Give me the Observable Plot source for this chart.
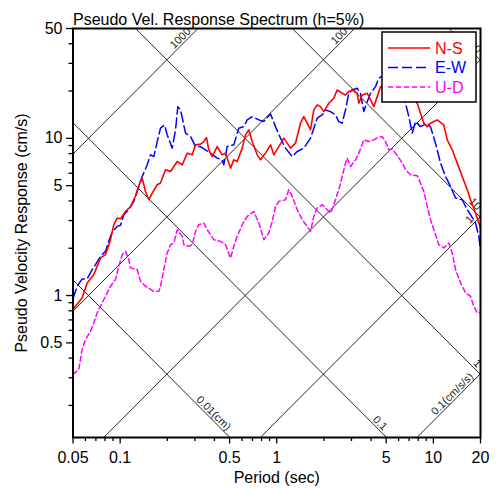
<!DOCTYPE html>
<html><head><meta charset="utf-8">
<script src="https://cdn.jsdelivr.net/npm/d3@7"></script>
<script src="https://cdn.jsdelivr.net/npm/@observablehq/plot@0.6"></script>
<style>body{margin:0;background:#fff} svg{display:block}</style>
</head><body><div id="chart"></div>
<script>
// ---------- data ----------
const periodNS = [0.05,0.0572,0.0616,0.0679,0.0749,0.0806,0.0868,0.0911,0.0958,0.1006,0.1082,0.1164,0.1254,0.1349,0.1383,0.1452,0.1524,0.1603,0.1725,0.1810,0.1949,0.2098,0.2315,0.2492,0.2682,0.2886,0.3029,0.3260,0.3421,0.3560,0.3682,0.3870,0.4165,0.4483,0.4706,0.5066,0.5316,0.5590,0.6017,0.6316,0.6630,0.6970,0.7502,0.7876,0.8476,0.9124,0.9577,1.0307,1.1093,1.1661,1.2240,1.3174,1.4179,1.4883,1.5646,1.6424,1.7242,1.8124,1.9026,1.9971,2.1497,2.3135,2.4321,2.6174,2.7477,2.8843,3.0322,3.2637,3.3412,3.5125,3.7814,3.9687,4.1660,4.3795,4.5973,5.195,5.876,6.641,7.329,7.888,8.691,9.137,9.591,10.58,11.66,12.26,13.20,14.20,15.29,16.46,17.27,18.59,20];
const velNS = [0.815,0.967,1.204,1.359,1.735,1.821,2.268,2.824,3.113,3.082,3.429,3.674,4.314,5.373,5.589,4.594,4.069,4.487,5.068,5.195,6.310,6.155,7.123,6.787,8.054,7.857,9.094,9.187,9.544,10.12,8.453,7.662,8.871,7.857,8.054,6.469,7.302,7.123,8.667,10.52,11.32,9.544,7.857,7.302,8.054,9.094,7.857,8.871,10.03,9.322,8.667,9.322,12.49,13.75,12.49,11.32,15.17,16.32,15.92,14.80,16.73,18.00,20.32,19.36,18.89,19.82,20.32,19.36,16.73,18.89,19.36,17.56,15.92,18.43,21.33,19.74,21.87,18.89,18.08,16.73,12.49,11.88,12.49,13.11,12.18,9.783,8.453,6.958,5.722,4.710,4.069,3.351,2.691];

const periodEW = [0.05,0.0532,0.0572,0.0616,0.0663,0.0696,0.0749,0.0806,0.0846,0.0890,0.0958,0.1006,0.1056,0.1136,0.1222,0.1285,0.1383,0.1489,0.1563,0.1640,0.1725,0.1810,0.1920,0.1998,0.2151,0.2258,0.2335,0.2430,0.2616,0.2815,0.3029,0.3260,0.3508,0.3775,0.4165,0.4483,0.4590,0.4825,0.5316,0.5724,0.6160,0.6476,0.6970,0.7682,0.8267,0.9124,0.9819,1.0568,1.1374,1.2550,1.3508,1.4883,1.6424,1.7242,1.8124,1.9507,2.0478,2.2038,2.3718,2.4899,2.6174,2.7477,2.8843,3.0322,3.2637,3.4260,3.5968,3.7814,3.9687,4.2717,4.4837,4.6451,5.195,5.876,6.641,6.971,7.329,7.694,8.279,9.137,9.591,10.32,11.11,11.96,12.87,13.86,15.29,16.46,17.27,18.59,19.51,20];
const velEW = [0.957,1.146,1.276,1.276,1.463,1.573,1.777,1.910,2.212,2.548,2.754,2.803,3.268,3.516,3.969,4.594,5.722,6.787,7.857,7.662,9.544,11.61,12.18,10.52,8.667,11.32,15.92,15.17,10.79,10.27,8.871,8.871,8.453,8.054,7.485,7.302,6.787,8.871,9.094,11.61,11.88,13.11,13.75,13.11,12.79,14.31,11.88,10.03,8.667,7.662,8.246,8.667,10.03,11.61,13.44,14.10,15.17,14.80,14.10,12.79,12.49,15.17,19.36,20.32,20.83,19.36,14.80,17.13,19.36,21.33,24.11,24.69,23.52,20.32,16.73,13.75,10.79,12.79,11.88,12.49,11.83,9.322,6.958,5.722,4.943,4.172,4.069,3.516,3.268,2.894,2.379,1.959];

const periodUD = [0.05,0.0544,0.0572,0.0601,0.0647,0.0679,0.0714,0.0749,0.0806,0.0868,0.0934,0.0980,0.1031,0.1082,0.1136,0.1164,0.1285,0.1349,0.1452,0.1640,0.1766,0.1810,0.1900,0.1998,0.2098,0.2202,0.2315,0.2492,0.2551,0.2746,0.2886,0.3029,0.3180,0.3421,0.3597,0.3962,0.4372,0.4706,0.5066,0.5316,0.5590,0.6017,0.6476,0.7136,0.7682,0.8267,0.8898,0.9354,0.9819,1.0307,1.1374,1.1938,1.2550,1.3508,1.4538,1.5646,1.6424,1.7242,1.8124,1.9507,2.0998,2.2038,2.3135,2.4899,2.6174,2.7477,2.8174,2.9572,3.1835,3.3412,3.5968,3.8712,4.1660,4.3795,4.7140,4.9483,5.195,5.460,5.731,6.327,6.641,7.149,7.888,8.279,8.691,9.137,9.591,10.07,10.84,11.66,12.55,13.20,13.86,14.91,16.05,17.27,18.13,19.06,20];
const velUD = [0.315,0.339,0.454,0.526,0.593,0.671,0.777,0.855,0.990,1.146,1.264,1.535,1.821,1.910,1.692,1.500,1.463,1.233,1.146,1.065,1.065,1.146,1.463,1.867,2.108,2.161,2.624,2.379,2.108,2.056,2.108,2.560,2.824,2.894,2.624,2.268,2.212,2.108,1.735,2.056,2.379,2.824,3.187,3.429,2.894,2.268,2.501,2.964,3.690,3.969,4.069,4.710,4.270,3.516,3.038,2.754,2.560,3.187,3.605,3.783,3.516,3.351,3.783,4.710,5.722,6.958,7.485,6.622,7.302,8.054,9.783,9.544,9.783,10.07,10.27,9.544,8.453,8.578,8.054,6.989,6.310,5.866,5.781,5.195,4.594,3.690,3.038,2.624,2.108,2.009,2.161,1.867,1.463,1.204,1.040,0.990,0.855,0.777,0.777];

const seriesNames = ["N-S", "E-W", "U-D"];
const seriesColors = ["#ff0000", "#0000ff", "#ff00ff"];
const seriesDash = [null, "10,4", "5,3"];

const xDomain = [0.05, 20];
const yDomain = [0.125, 50];
const xMajor = [0.05, 0.1, 0.5, 1, 5, 10, 20];
const xMajorLabels = ["0.05", "0.1", "0.5", "1", "5", "10", "20"];
const yMajor = [0.5, 1, 5, 10, 50];
const yMajorLabels = ["0.5", "1", "5", "10", "50"];
const dispLines = [0.01, 0.1, 1, 10, 100];           // cm
const dispLabels = ["0.01(cm)", "0.1", "1", "10", "100"];
const accLines = [0.1, 1, 10, 100, 1000];            // cm/s/s
const accLabels = ["0.1(cm/s/s)", "1", "10", "100", "1000"];
const titleText = "Pseudo Vel. Response Spectrum (h=5%)";
const xLabel = "Period (sec)";
const yLabel = "Pseudo Velocity Response (cm/s)";

// ---------- derived ----------
function logTicks([lo, hi]) {
  const out = [];
  for (let e = Math.floor(Math.log10(lo)); e <= Math.ceil(Math.log10(hi)); e++) {
    for (let k = 1; k <= 9; k++) {
      const v = +(k * Math.pow(10, e)).toPrecision(6);
      if (v >= lo * 0.9999 && v <= hi * 1.0001) out.push(v);
    }
  }
  return out;
}
const xMinor = logTicks(xDomain).filter(v => !xMajor.includes(v));
const yMinor = logTicks(yDomain).filter(v => !yMajor.includes(v));

const mk = (P, V, name) => P.map((p, i) => ({T: p, V: V[i], s: name}));
const dataNS = mk(periodNS, velNS, "N-S");
const dataEW = mk(periodEW, velEW, "E-W");
const dataUD = mk(periodUD, velUD, "U-D");

const TWO_PI = 2 * Math.PI;
const dispGrid = dispLines.flatMap(D => xDomain.map(T => ({T, V: TWO_PI * D / T, k: "D" + D})));
const accGrid = accLines.flatMap(A => xDomain.map(T => ({T, V: A * T / TWO_PI, k: "A" + A})));

const back = Math.pow(10, 5 / 157), perp = Math.pow(10, 1.5 / 157);
const dispLabelData = dispLines.map((D, i) => {
  let T = xDomain[1], V = TWO_PI * D / T;
  if (V < yDomain[0]) { V = yDomain[0]; T = TWO_PI * D / V; }
  return {T: T / back * perp, V: V * back * perp, text: dispLabels[i]};
});
const accLabelData = accLines.map((A, i) => {
  let T = xDomain[1], V = A * T / TWO_PI;
  if (V > yDomain[1]) { V = yDomain[1]; T = TWO_PI * V / A; }
  return {T: T / back / perp, V: V / back * perp, text: accLabels[i]};
});

const FONT = "'Liberation Sans', Arial, Helvetica, sans-serif";

function legend(index, scales, values, dimensions) {
  const g = d3.create("svg:g");
  const x0 = dimensions.width - dimensions.marginRight - 98, y0 = dimensions.marginTop + 4;
  g.append("rect").attr("x", x0).attr("y", y0).attr("width", 94).attr("height", 70)
    .attr("fill", "white").attr("stroke", "black").attr("stroke-width", 1.5);
  seriesNames.forEach((name, i) => {
    const yy = y0 + 16 + i * 19.5;
    g.append("line").attr("x1", x0 + 6).attr("x2", x0 + 48).attr("y1", yy).attr("y2", yy)
      .attr("stroke", seriesColors[i]).attr("stroke-width", 1.5)
      .attr("stroke-dasharray", seriesDash[i]);
    g.append("text").attr("x", x0 + 53).attr("y", yy + 5.8).text(name)
      .attr("text-anchor", "start")
      .attr("fill", seriesColors[i]).attr("font-size", 16).attr("font-family", FONT);
  });
  return g.node();
}

const chart = Plot.plot({
  width: 498, height: 488,
  marginLeft: 72.5, marginRight: 18, marginTop: 28, marginBottom: 51,
  x: {type: "log", domain: xDomain},
  y: {type: "log", domain: yDomain},
  style: {fontFamily: FONT, background: "white", color: "black"},
  marks: [
    Plot.line(dispGrid, {x: "T", y: "V", z: "k", stroke: "#111", strokeWidth: 0.9, clip: true}),
    Plot.line(accGrid, {x: "T", y: "V", z: "k", stroke: "#111", strokeWidth: 0.9, clip: true}),
    Plot.text(dispLabelData, {x: "T", y: "V", text: "text", rotate: 45, textAnchor: "end", lineAnchor: "bottom", fontSize: 11, fill: "#222"}),
    Plot.text(accLabelData, {x: "T", y: "V", text: "text", rotate: -45, textAnchor: "end", lineAnchor: "bottom", fontSize: 11, fill: "#222"}),
    Plot.line(dataUD, {x: "T", y: "V", stroke: seriesColors[2], strokeWidth: 1.5, strokeDasharray: seriesDash[2], clip: true}),
    Plot.line(dataEW, {x: "T", y: "V", stroke: seriesColors[1], strokeWidth: 1.5, strokeDasharray: seriesDash[1], clip: true}),
    Plot.line(dataNS, {x: "T", y: "V", stroke: seriesColors[0], strokeWidth: 1.6, clip: true}),
    Plot.axisX(xMinor, {anchor: "bottom", tickSize: 4, tickFormat: () => "", strokeWidth: 1.3, label: null}),
    Plot.axisX(xMajor, {anchor: "bottom", tickSize: 6.5, tickFormat: () => "", strokeWidth: 1.3, label: null}),
    Plot.text(xMajor, {x: d => d, text: (d, i) => xMajorLabels[i], frameAnchor: "bottom", textAnchor: "middle", lineAnchor: "top", dy: 14, fontSize: 16}),
    Plot.axisY(yMinor, {anchor: "left", tickSize: 4, tickFormat: () => "", strokeWidth: 1.3, label: null}),
    Plot.axisY(yMajor, {anchor: "left", tickSize: 6.5, tickFormat: () => "", strokeWidth: 1.3, label: null}),
    Plot.text(yMajor, {y: d => d, text: (d, i) => yMajorLabels[i], frameAnchor: "left", textAnchor: "end", lineAnchor: "middle", dx: -10.5, fontSize: 16}),
    Plot.frame({stroke: "black", strokeWidth: 2}),
    Plot.text([titleText], {frameAnchor: "top-left", textAnchor: "start", lineAnchor: "bottom", dy: -4, fontSize: 16}),
    Plot.text([xLabel], {frameAnchor: "bottom", textAnchor: "middle", lineAnchor: "bottom", dy: 45, fontSize: 16}),
    Plot.text([yLabel], {frameAnchor: "left", textAnchor: "middle", rotate: -90, lineAnchor: "bottom", dx: -46.5, fontSize: 16}),
    legend
  ]
});
document.getElementById("chart").appendChild(chart);
</script></body></html>
